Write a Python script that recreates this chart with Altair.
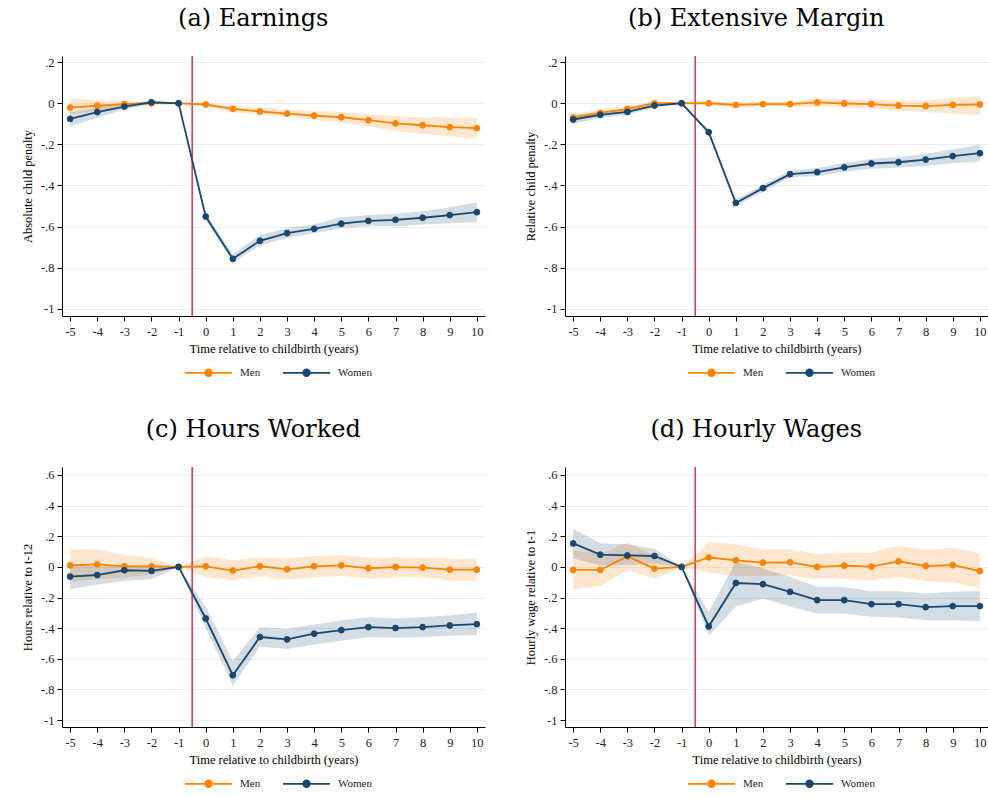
import altair as alt
import pandas as pd

# ---------------- data ----------------
t = list(range(-5, 11))
x_ticks = list(range(-5, 11))
event_line = [-0.5]
ticks_ab = [0.2, 0, -0.2, -0.4, -0.6, -0.8, -1]
ticks_cd = [0.6, 0.4, 0.2, 0, -0.2, -0.4, -0.6, -0.8, -1]
sexes = ["Men", "Women"]

# (a) Earnings
men_a = [-0.021, -0.012, -0.004, 0.0, 0.0, -0.006, -0.027, -0.040, -0.050, -0.060, -0.068, -0.082, -0.098, -0.107, -0.116, -0.121]
men_a_lo = [-0.055, -0.035, -0.018, -0.005, 0.0, -0.015, -0.042, -0.055, -0.065, -0.080, -0.095, -0.112, -0.135, -0.148, -0.162, -0.172]
men_a_hi = [0.025, 0.015, 0.010, 0.006, 0.0, 0.002, -0.012, -0.022, -0.030, -0.038, -0.042, -0.052, -0.062, -0.068, -0.070, -0.072]
women_a = [-0.076, -0.043, -0.016, 0.005, 0.0, -0.551, -0.757, -0.669, -0.632, -0.611, -0.586, -0.572, -0.567, -0.557, -0.544, -0.530]
women_a_lo = [-0.113, -0.070, -0.030, -0.002, 0.0, -0.565, -0.776, -0.692, -0.655, -0.632, -0.607, -0.598, -0.598, -0.590, -0.584, -0.578]
women_a_hi = [-0.045, -0.020, -0.002, 0.012, 0.0, -0.538, -0.733, -0.641, -0.608, -0.588, -0.554, -0.544, -0.538, -0.525, -0.506, -0.481]

# (b) Extensive margin
men_b = [-0.069, -0.047, -0.027, 0.0, 0.0, 0.0, -0.008, -0.004, -0.004, 0.004, -0.001, -0.004, -0.011, -0.014, -0.008, -0.006]
men_b_lo = [-0.085, -0.062, -0.040, -0.010, 0.0, -0.010, -0.020, -0.017, -0.018, -0.017, -0.020, -0.025, -0.035, -0.043, -0.050, -0.058]
men_b_hi = [-0.053, -0.032, -0.014, 0.010, 0.0, 0.010, 0.004, 0.009, 0.010, 0.021, 0.018, 0.017, 0.013, 0.014, 0.028, 0.034]
women_b = [-0.079, -0.056, -0.042, -0.011, 0.0, -0.141, -0.485, -0.413, -0.345, -0.335, -0.312, -0.293, -0.287, -0.274, -0.257, -0.243]
women_b_lo = [-0.100, -0.072, -0.055, -0.022, 0.0, -0.155, -0.500, -0.430, -0.360, -0.355, -0.333, -0.318, -0.313, -0.305, -0.290, -0.283]
women_b_hi = [-0.060, -0.040, -0.030, 0.000, 0.0, -0.128, -0.468, -0.395, -0.328, -0.315, -0.290, -0.270, -0.262, -0.245, -0.225, -0.200]

# (c) Hours worked
men_c = [0.010, 0.017, 0.004, 0.004, 0.0, 0.004, -0.024, 0.004, -0.016, 0.004, 0.010, -0.009, -0.001, -0.005, -0.018, -0.018]
men_c_lo = [-0.098, -0.080, -0.070, -0.050, 0.0, -0.066, -0.090, -0.062, -0.085, -0.068, -0.059, -0.078, -0.070, -0.070, -0.090, -0.090]
men_c_hi = [0.119, 0.114, 0.080, 0.058, 0.0, 0.071, 0.043, 0.062, 0.054, 0.069, 0.077, 0.058, 0.062, 0.060, 0.054, 0.052]
women_c = [-0.063, -0.053, -0.022, -0.026, 0.0, -0.337, -0.707, -0.458, -0.473, -0.436, -0.413, -0.393, -0.399, -0.393, -0.382, -0.374]
women_c_lo = [-0.146, -0.115, -0.090, -0.080, 0.0, -0.400, -0.775, -0.520, -0.536, -0.506, -0.482, -0.458, -0.462, -0.458, -0.449, -0.445]
women_c_hi = [0.020, 0.005, 0.010, 0.005, 0.0, -0.260, -0.615, -0.393, -0.406, -0.376, -0.350, -0.329, -0.337, -0.329, -0.316, -0.300]

# (d) Hourly wages
men_d = [-0.020, -0.020, 0.069, -0.011, 0.0, 0.062, 0.043, 0.028, 0.030, 0.0, 0.008, 0.002, 0.036, 0.006, 0.012, -0.027]
men_d_lo = [-0.146, -0.124, -0.020, -0.081, 0.0, -0.037, -0.059, -0.059, -0.055, -0.081, -0.076, -0.090, -0.066, -0.094, -0.102, -0.137]
men_d_hi = [0.108, 0.086, 0.158, 0.075, 0.0, 0.162, 0.149, 0.114, 0.114, 0.086, 0.090, 0.093, 0.140, 0.112, 0.125, 0.088]
women_d = [0.153, 0.080, 0.075, 0.071, 0.0, -0.389, -0.105, -0.113, -0.163, -0.217, -0.217, -0.243, -0.243, -0.263, -0.256, -0.256]
women_d_lo = [0.054, 0.010, 0.010, 0.021, 0.0, -0.450, -0.260, -0.206, -0.260, -0.304, -0.304, -0.326, -0.330, -0.348, -0.348, -0.354]
women_d_hi = [0.249, 0.155, 0.147, 0.119, 0.0, -0.293, 0.032, -0.011, -0.066, -0.131, -0.131, -0.159, -0.159, -0.174, -0.163, -0.157]

# ---------------- style ----------------
ORANGE = "#ff8200"
NAVY = "#1a476f"
RED = "#cc1440"
GRID = "#e6eff1"
SERIF = "Liberation Serif"
TITLE_FONT = "DejaVu Serif"
W, H = 423, 260
SYMBOL = "M-1,0L1,0M-0.14,0A0.14,0.14,0,1,1,0.14,0A0.14,0.14,0,1,1,-0.14,0Z"

color_scale = alt.Scale(domain=sexes, range=[ORANGE, NAVY])


def make_df(men, men_lo, men_hi, women, women_lo, women_hi):
    rows = []
    for sex, est, lo, hi in [("Men", men, men_lo, men_hi), ("Women", women, women_lo, women_hi)]:
        for ti, e, l, h in zip(t, est, lo, hi):
            rows.append({"t": ti, "sex": sex, "est": e, "lo": l, "hi": h})
    return pd.DataFrame(rows)


def panel(title, ytitle, df, ydom, yticks):
    legend = alt.Legend(
        title=None, orient="none", legendX=122, legendY=292, direction="horizontal",
        symbolType=SYMBOL, symbolSize=2209, symbolStrokeWidth=1.8,
        labelFont=SERIF, labelFontSize=11, labelOffset=7, columnPadding=18,
        labelColor="#222222",
    )
    xenc = alt.X(
        "t:Q",
        scale=alt.Scale(domain=[-5.3, 10.3], nice=False, zero=False),
        axis=alt.Axis(values=x_ticks, title="Time relative to childbirth (years)",
                      grid=False, labelFlush=False,
                      labelExpr="toString(datum.value)"),
    )
    yaxis = alt.Axis(values=yticks, title=ytitle, grid=True,
                     labelExpr="replace(toString(datum.value), '0.', '.')")
    yscale = alt.Scale(domain=ydom, nice=False, zero=False)

    base = alt.Chart(df)
    layers = []
    for sex, col in [("Men", ORANGE), ("Women", NAVY)]:
        layers.append(
            base.transform_filter(alt.datum.sex == sex)
            .mark_area(color=col, opacity=0.19)
            .encode(x=xenc, y=alt.Y("lo:Q", scale=yscale, axis=yaxis), y2="hi:Q")
        )
    layers.append(
        alt.Chart(pd.DataFrame({"t": event_line}))
        .mark_rule(color=RED, strokeWidth=1.3)
        .encode(x=xenc)
    )
    for sex in sexes:
        sub = base.transform_filter(alt.datum.sex == sex)
        layers.append(
            sub.mark_line(strokeWidth=1.8).encode(
                x=xenc, y=alt.Y("est:Q", scale=yscale, axis=yaxis),
                stroke=alt.Stroke("sex:N", scale=color_scale, legend=legend),
            )
        )
        layers.append(
            sub.mark_point(filled=True, size=34, opacity=1, strokeWidth=1).encode(
                x=xenc, y=alt.Y("est:Q", scale=yscale, axis=yaxis),
                fill=alt.Fill("sex:N", scale=color_scale, legend=legend),
                stroke=alt.Stroke("sex:N", scale=color_scale, legend=legend),
            )
        )
    return alt.layer(*layers).properties(
        width=W, height=H,
        title=alt.TitleParams(text=title, font=TITLE_FONT, fontSize=24, fontWeight="normal",
                              anchor="middle", frame="bounds", color="black", offset=24),
    )


pa = panel("(a) Earnings", "Absolute child penalty",
           make_df(men_a, men_a_lo, men_a_hi, women_a, women_a_lo, women_a_hi),
           [-1.035, 0.23], ticks_ab)
pb = panel("(b) Extensive Margin", "Relative child penalty",
           make_df(men_b, men_b_lo, men_b_hi, women_b, women_b_lo, women_b_hi),
           [-1.035, 0.23], ticks_ab)
pc = panel("(c) Hours Worked", "Hours relative to t-12",
           make_df(men_c, men_c_lo, men_c_hi, women_c, women_c_lo, women_c_hi),
           [-1.045, 0.652], ticks_cd)
pd_ = panel("(d) Hourly Wages", "Hourly wage relative to t-1",
            make_df(men_d, men_d_lo, men_d_hi, women_d, women_d_lo, women_d_hi),
            [-1.045, 0.652], ticks_cd)


def row(a, b):
    return alt.hconcat(a, b, spacing=39).resolve_scale(
        fill="independent", stroke="independent"
    ).resolve_legend(fill="independent", stroke="independent")


chart = (
    alt.vconcat(row(pa, pb), row(pc, pd_), spacing=38)
    .resolve_scale(fill="independent", stroke="independent")
    .resolve_legend(fill="independent", stroke="independent")
    .properties(padding={"left": 21, "top": 7, "right": 0, "bottom": 0}, background="white")
    .configure_view(stroke=None)
    .configure_axis(
        domainColor="black", domainWidth=1, tickColor="black", tickSize=5, tickWidth=1,
        labelFont=SERIF, labelFontSize=12.5, labelColor="#222222",
        titleFont=SERIF, titleFontSize=12.5, titleFontWeight="normal", titleColor="black",
        gridColor=GRID, gridWidth=1,
    )
    .configure_axisY(labelPadding=3, titlePadding=6)
    .configure_axisX(labelPadding=4, titlePadding=5)
)

chart.save("out.html", embed_options={"renderer": "svg", "actions": False})
